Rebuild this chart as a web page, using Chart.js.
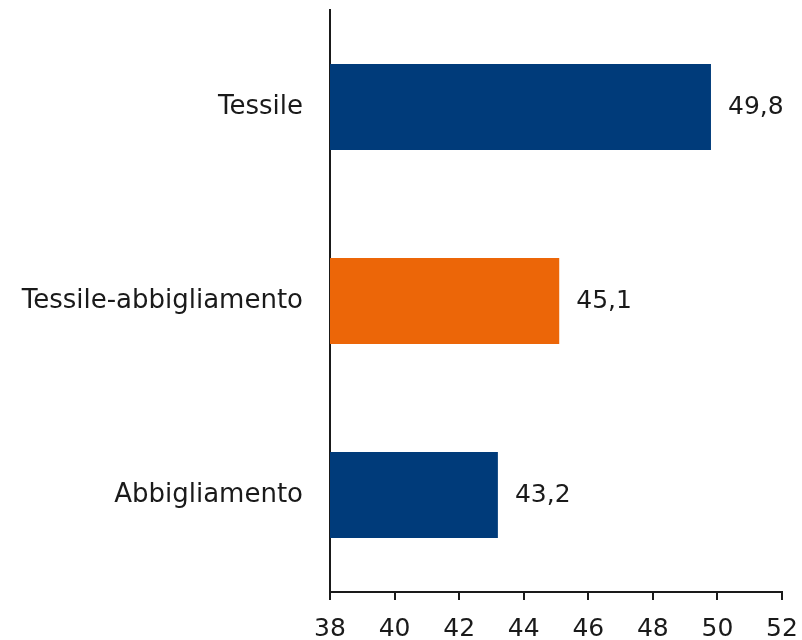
<!DOCTYPE html>
<html>
<head>
<meta charset="utf-8">
<script src="https://cdn.jsdelivr.net/npm/chart.js@4/dist/chart.umd.min.js"></script>
<style>
  html, body { margin: 0; padding: 0; background: #fff; }
  #wrap { width: 802px; height: 640px; }
</style>
</head>
<body>
<div id="wrap"><canvas id="myChart" width="802" height="640"></canvas></div>
<script>
const categories = ['Tessile', 'Tessile-abbigliamento', 'Abbigliamento'];
const values = [49.8, 45.1, 43.2];
const barColors = ['#003b7a', '#ec6608', '#003b7a'];
const tickValues = [38, 40, 42, 44, 46, 48, 50, 52];

const fontFamily = "'DejaVu Sans', sans-serif";

// value labels at the end of each bar, with comma decimals
const valueLabels = {
    id: 'valueLabels',
    afterDatasetsDraw(chart) {
        const ctx = chart.ctx;
        const meta = chart.getDatasetMeta(0);
        ctx.save();
        ctx.font = '25px ' + fontFamily;
        ctx.fillStyle = '#1a1a1a';
        ctx.textAlign = 'left';
        ctx.textBaseline = 'middle';
        meta.data.forEach((bar, i) => {
            const txt = values[i].toFixed(1).replace('.', ',');
            ctx.fillText(txt, bar.x + 17, bar.y);
        });
        ctx.restore();
    }
};

new Chart(document.getElementById('myChart'), {
    type: 'bar',
    data: {
        labels: categories,
        datasets: [{
            data: values,
            backgroundColor: barColors,
            borderWidth: 0,
            barPercentage: 0.443,
            categoryPercentage: 1
        }]
    },
    options: {
        indexAxis: 'y',
        responsive: false,
        animation: false,
        layout: { padding: { top: 10, right: 20, left: 0, bottom: 0 } },
        plugins: {
            legend: { display: false },
            tooltip: { enabled: false }
        },
        scales: {
            x: {
                min: 38,
                max: 52,
                afterBuildTicks(axis) {
                    axis.ticks = tickValues.map(v => ({ value: v }));
                },
                afterFit(axis) {
                    axis.height = 48;
                    axis.paddingLeft = 0;
                    axis.paddingRight = 0;
                },
                grid: {
                    display: true,
                    drawOnChartArea: false,
                    drawTicks: true,
                    tickLength: 8,
                    color: '#1a1a1a',
                    lineWidth: 2
                },
                border: { display: true, color: '#1a1a1a', width: 2 },
                ticks: {
                    color: '#1a1a1a',
                    padding: 14,
                    maxRotation: 0,
                    font: { family: fontFamily, size: 25 }
                }
            },
            y: {
                afterFit(axis) {
                    axis.width = 330;
                    axis.paddingTop = 0;
                    axis.paddingBottom = 0;
                },
                grid: { display: false },
                border: { display: true, color: '#1a1a1a', width: 2 },
                ticks: {
                    color: '#1a1a1a',
                    padding: 19,
                    font: { family: fontFamily, size: 26 }
                }
            }
        }
    },
    plugins: [valueLabels]
});
</script>
</body>
</html>
